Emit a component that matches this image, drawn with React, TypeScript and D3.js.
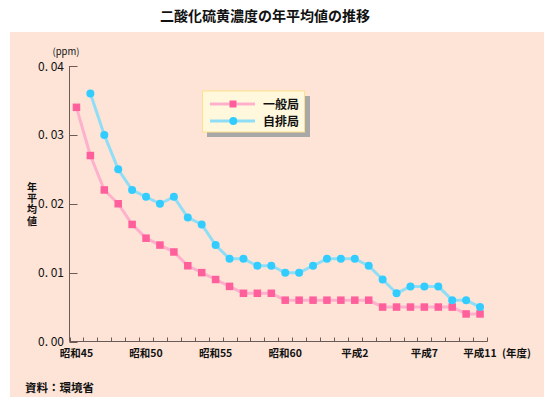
import React from "react";
import * as d3 from "d3";

const years: number[] = d3.range(1970, 2000);
const generalValues: (number | null)[] = [
  0.034, 0.027, 0.022, 0.020, 0.017, 0.015, 0.014, 0.013, 0.011, 0.010,
  0.009, 0.008, 0.007, 0.007, 0.007, 0.006, 0.006, 0.006, 0.006, 0.006,
  0.006, 0.006, 0.005, 0.005, 0.005, 0.005, 0.005, 0.005, 0.004, 0.004,
];
const roadsideValues: (number | null)[] = [
  null, 0.036, 0.030, 0.025, 0.022, 0.021, 0.020, 0.021, 0.018, 0.017,
  0.014, 0.012, 0.012, 0.011, 0.011, 0.010, 0.010, 0.011, 0.012, 0.012,
  0.012, 0.011, 0.009, 0.007, 0.008, 0.008, 0.008, 0.006, 0.006, 0.005,
];
const xLabelYears: number[] = [1970, 1975, 1980, 1985, 1990, 1995, 1999];
const xLabelTexts: string[] = ["昭和45", "昭和50", "昭和55", "昭和60", "平成2", "平成7", "平成11"];
const yTicks: number[] = [0, 0.01, 0.02, 0.03, 0.04];
const seriesNames: string[] = ["一般局", "自排局"];

const FONT = "'Noto Sans CJK JP', 'Noto Sans', sans-serif";

export default function App() {
  const x = d3.scaleBand<number>().domain(years).range([69.5, 487]).padding(0);
  const y = d3.scaleLinear().domain([0, 0.04]).range([341.5, 66]);
  const cx = (yr: number) => (x(yr) as number) + x.bandwidth() / 2;

  const line = d3
    .line<[number, number | null]>()
    .defined((d) => d[1] != null)
    .x((d) => cx(d[0]))
    .y((d) => y(d[1] as number));

  const gData = years.map((yr, i) => [yr, generalValues[i]] as [number, number | null]);
  const rData = years.map((yr, i) => [yr, roadsideValues[i]] as [number, number | null]);

  const pinkLine = "#ffb0cc";
  const pinkMark = "#ff5f9b";
  const blueLine = "#90def6";
  const blueMark = "#33ccff";
  const axisColor = "#6b5a55";

  const boundaries = d3.range(0, years.length + 1).map((i) => 69.5 + i * x.bandwidth());

  return (
    <svg
      width={554}
      height={408}
      style={{ position: "absolute", left: 0, top: 0, background: "#ffffff" }}
      fontFamily={FONT}
    >
      <text x={265} y={21} textAnchor="middle" fontSize={14} fontWeight="bold" fill="#111">
        二酸化硫黄濃度の年平均値の推移
      </text>
      <rect x={10} y={32} width={534} height={365} fill="#fde4d7" />

      {/* y axis */}
      <line x1={69.5} x2={69.5} y1={y(0.04)} y2={y(0)} stroke={axisColor} strokeWidth={1} />
      {yTicks.map((t) => (
        <g key={t}>
          <line x1={69.5} x2={77.5} y1={Math.round(y(t)) + 0.5} y2={Math.round(y(t)) + 0.5} stroke={axisColor} />
          <text x={64} y={y(t) + 4.5} textAnchor="end" fontSize={12} fill="#111">
            {d3.format(".2f")(t).replace(".", ". ")}
          </text>
        </g>
      ))}
      <text x={66} y={55} textAnchor="middle" fontSize={9.5} fill="#111">(ppm)</text>
      <text
        x={32}
        y={182}
        fontSize={10}
        fontWeight="bold"
        fill="#111"
        style={{ writingMode: "vertical-rl", letterSpacing: "1.3px" }}
      >
        年平均値
      </text>

      {/* x axis */}
      <line x1={69.5} x2={487.5} y1={341.5} y2={341.5} stroke={axisColor} />
      {boundaries.map((bx, i) => (
        <line key={i} x1={Math.round(bx) + 0.5} x2={Math.round(bx) + 0.5} y1={341.5} y2={337.5} stroke={axisColor} />
      ))}
      {xLabelYears.map((yr, i) => (
        <text key={yr} x={cx(yr)} y={357} textAnchor="middle" fontSize={10.5} fontWeight="bold" fill="#111">
          {xLabelTexts[i]}
        </text>
      ))}
      <text x={502} y={357} fontSize={10.5} fontWeight="bold" fill="#111">(年度)</text>

      <text x={25} y={392} fontSize={11.5} fontWeight="bold" fill="#111">資料：環境省</text>

      {/* legend */}
      <rect x={207} y={96} width={103} height={41} fill="#a8a8a8" />
      <rect x={202.5} y={91} width={102} height={41} fill="#fff8dc" stroke="#ffe08a" strokeWidth={1} />
      <line x1={210} x2={255} y1={104} y2={104} stroke={pinkLine} strokeWidth={3} />
      <rect x={229.5} y={100.5} width={7} height={7} fill={pinkMark} />
      <text x={263} y={108.5} fontSize={12} fontWeight="bold" fill="#111">{seriesNames[0]}</text>
      <line x1={210} x2={255} y1={121} y2={121} stroke={blueLine} strokeWidth={3} />
      <circle cx={233.3} cy={121} r={4} fill={blueMark} />
      <text x={263} y={125.5} fontSize={12} fontWeight="bold" fill="#111">{seriesNames[1]}</text>

      {/* series */}
      <path d={line(gData) ?? ""} fill="none" stroke={pinkLine} strokeWidth={3} strokeLinejoin="round" />
      <path d={line(rData) ?? ""} fill="none" stroke={blueLine} strokeWidth={3} strokeLinejoin="round" />
      {gData.map(([yr, v]) =>
        v == null ? null : (
          <rect key={"g" + yr} x={cx(yr) - 3.75} y={y(v) - 3.75} width={7.5} height={7.5} fill={pinkMark} />
        )
      )}
      {rData.map(([yr, v]) =>
        v == null ? null : <circle key={"r" + yr} cx={cx(yr)} cy={y(v)} r={4} fill={blueMark} />
      )}
    </svg>
  );
}
